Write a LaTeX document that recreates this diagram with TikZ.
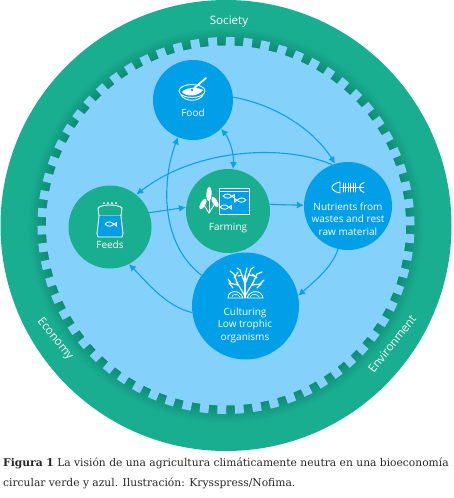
\documentclass[tikz,border=0pt]{standalone}
\usepackage{fontspec}
\setmainfont{Open Sans}
\newfontfamily\capfont{DejaVu Serif}
\usepackage{xcolor}
\usetikzlibrary{arrows.meta,positioning,calc}

\definecolor{ringgreen}{HTML}{1AAE91}
\definecolor{ringdark}{HTML}{0E8A75}
\definecolor{skyblue}{HTML}{84D2FC}
\definecolor{hubblue}{HTML}{009FE8}
\definecolor{flowblue}{HTML}{119FE2}

\begin{document}
\begin{tikzpicture}[
  x=1pt, y=-1pt,
  hub/.style={circle, fill=hubblue, inner sep=0pt, minimum size=#1},
  farmhub/.style={circle, fill=ringgreen, inner sep=0pt, minimum size=#1},
  hubtext/.style={text=white, align=center, font=\fontsize{10}{12.4}\selectfont},
  ringtext/.style={text=white, inner sep=0pt, font=\fontsize{11.6}{14}\selectfont},
  flow/.style={-{Latex[length=7pt,width=7pt]}, draw=flowblue, line width=1.1pt},
  flowboth/.style={{Latex[length=7pt,width=7pt]}-{Latex[length=7pt,width=7pt]}, draw=flowblue, line width=1.1pt},
  icon/.style={draw=white, line width=0.9pt, line cap=round, line join=round},
  captext/.style={anchor=west, inner sep=0pt, text=black!85, font=\capfont\fontsize{10.7}{12}\selectfont},
  fishsmall/.pic={
    \draw[icon] (-5,0) .. controls (-2,-3.2) and (2,-2.4) .. (4,0.8)
      -- (6.5,-1.8) -- (6.5,2.2) -- (4,-0.2) .. controls (2,2.8) and (-2,3.2) .. (-5,0);
  }
]

\def\cx{226}
\def\cy{225.5}

\useasboundingbox (0,0) rectangle (454,498);

% outer ring with the shade next to the teeth
\fill[ringgreen] (\cx,\cy) circle (225.5);
\foreach \r in {0,1,...,20}
  \pgfmathsetmacro{\mix}{5*\r}
  \fill[ringdark!\mix!ringgreen] (\cx,\cy) circle ({198-0.9*\r});

% teeth
\fill[skyblue] (\cx,\cy) circle (180);
\foreach \a in {0,1,...,65}
  \fill[skyblue, shift={(\cx,\cy)}, rotate={\a*5.4545-1.3}] (-4.4,-188.5) rectangle (4.4,-178);

\node[ringtext] (society) at (229,22) {Society};
\node[ringtext, rotate=-51] (economy) at (55,339) {Economy};
\node[ringtext, rotate=52] (environment) at (392,344) {Environment};

% hubs
\node[hub=80pt] (food) at (193,100) {};
\node[farmhub=83pt] (feeds) at (110,227) {};
\node[farmhub=84pt] (farming) at (228,211) {};
\node[hub=88pt] (nutrients) at (348,206) {};
\node[hub=107pt] (culturing) at (245.5,306) {};

\node[hubtext] (foodtext) at (193,113) {Food};
\node[hubtext] (feedstext) at (110,245) {Feeds};
\node[hubtext] (farmingtext) at (228,228) {Farming};
\node[hubtext] (nutrientstext) at (348,219) {Nutrients from\\wastes and rest\\raw material};
\node[hubtext] (culturingtext) at (245,325) {Culturing\\Low trophic\\organisms};

% connectors
\draw[flow] (food.4) .. controls +(45,8) and +(-20,-32) .. (nutrients.107);
\draw[flowboth] (food.-46) .. controls +(7,8) and +(1,-18) .. (farming.83);
\draw[flow] (nutrients.111) .. controls +(-45,-20) and +(62,-48) .. (feeds.51);
\draw[flow] (culturing.145) .. controls +(-42,-32) and +(-16,42) .. (food.248);
\draw[flow] (culturing.187) .. controls +(-26,-6) and +(19,19) .. (feeds.297);
\draw[flow] (feeds.20) -- (farming.175);
\draw[flow] (farming.9) -- (nutrients.179);
\draw[flow] (nutrients.257) .. controls +(-6,18) and +(18,-16) .. (culturing.11);

% bowl
\fill[white] (182,92) .. controls (186,97) and (198,97) .. (203,90) .. controls (198,87) and (186,87) .. (182,92);
\draw[icon] (192,91) ellipse (13 and 6.5);
\draw[icon] (181,95) .. controls (185,102) and (199,102) .. (203,95);
\draw[icon, line width=1.8pt] (192,90) -- (206,78);
\fill[hubblue] (192,90) circle (1.4);

% sack
\draw[icon] (98,208) .. controls (102,204) and (118,204) .. (122,208) -- (121,216) -- (99,216) -- cycle;
\fill[hubblue] (98,216) rectangle (122,236);
\draw[icon] (99,216) -- (97,234) -- (98,237) -- (122,237) -- (123,234) -- (121,216);
\foreach \x in {104,108,112,116}
  \fill[white] (\x,203) circle (1);
\pic at (110,224) {fishsmall};

% wheat and pond
\draw[icon] (209,213) -- (209,197);
\draw[icon] (209,213) -- (204,205);
\draw[icon] (209,213) -- (214,205);
\fill[white, rotate around={-3:(209,194)}] (209,194) ellipse (2.6 and 7);
\fill[white, rotate around={-30:(203,204)}] (203,204) ellipse (2.4 and 6);
\fill[white, rotate around={30:(215,202)}] (215,202) ellipse (2.4 and 6);
\fill[hubblue, draw=white, line width=0.8pt] (219,188) rectangle (249,214);
\draw[icon, line width=0.6pt] (220,191) -- (248,191);
\pic at (228,196) {fishsmall};
\pic[xscale=-1] at (241,200) {fishsmall};
\pic at (225,207) {fishsmall};

% fish bones
\draw[icon] (340,182) .. controls (334,183) and (332,186) .. (332,187.5) .. controls (332,189) and (334,192) .. (340,193) -- cycle;
\draw[icon] (340,187.5) -- (364,187.5);
\foreach \x in {343,345.5,348,350.5,353,355.5}
  \draw[icon, line width=0.8pt] (\x,183) -- (\x,192);
\draw[icon] (364,182.5) .. controls (358,184) and (358,191) .. (364,192.5);

% coral and shells
\foreach \xa/\ya/\xb/\yb in {245/298/245/276,245/296/236/281,245/296/254/281,238/285/229/283,238/285/234/274,252/285/261/284,252/285/257/274,245/284/240/270,245/284/251/269,234/274/230/271,234/278/238/272,257/274/262/272,257/278/252/274,240/270/237/268,251/269/254/267,245/276/247/268,231/283/228/279,260/284/264/280,242/275/238/276,249/275/254/276,229/283/233/288,261/284/257/288}
  \draw[icon, line width=1.2pt] (\xa,\ya) -- (\xb,\yb);
\draw[icon] (228,298) .. controls (228,290) and (240,289) .. (243,298) -- cycle;
\draw[icon, line width=0.6pt] (232,297) .. controls (232,294) and (238,293) .. (240,297);
\draw[icon] (247,298) .. controls (250,289) and (262,290) .. (263,298) -- cycle;
\draw[icon, line width=0.6pt] (250,297) .. controls (252,293) and (258,294) .. (259,297);

% caption
\node[captext] (capfirst) at (3,463)
  {\textbf{Figura 1} La visión de una agricultura climáticamente neutra en una bioeconomía};
\node[captext] (capsecond) at (3,483)
  {circular verde y azul. Ilustración: Krysspress/Nofima.};

\end{tikzpicture}
\end{document}
